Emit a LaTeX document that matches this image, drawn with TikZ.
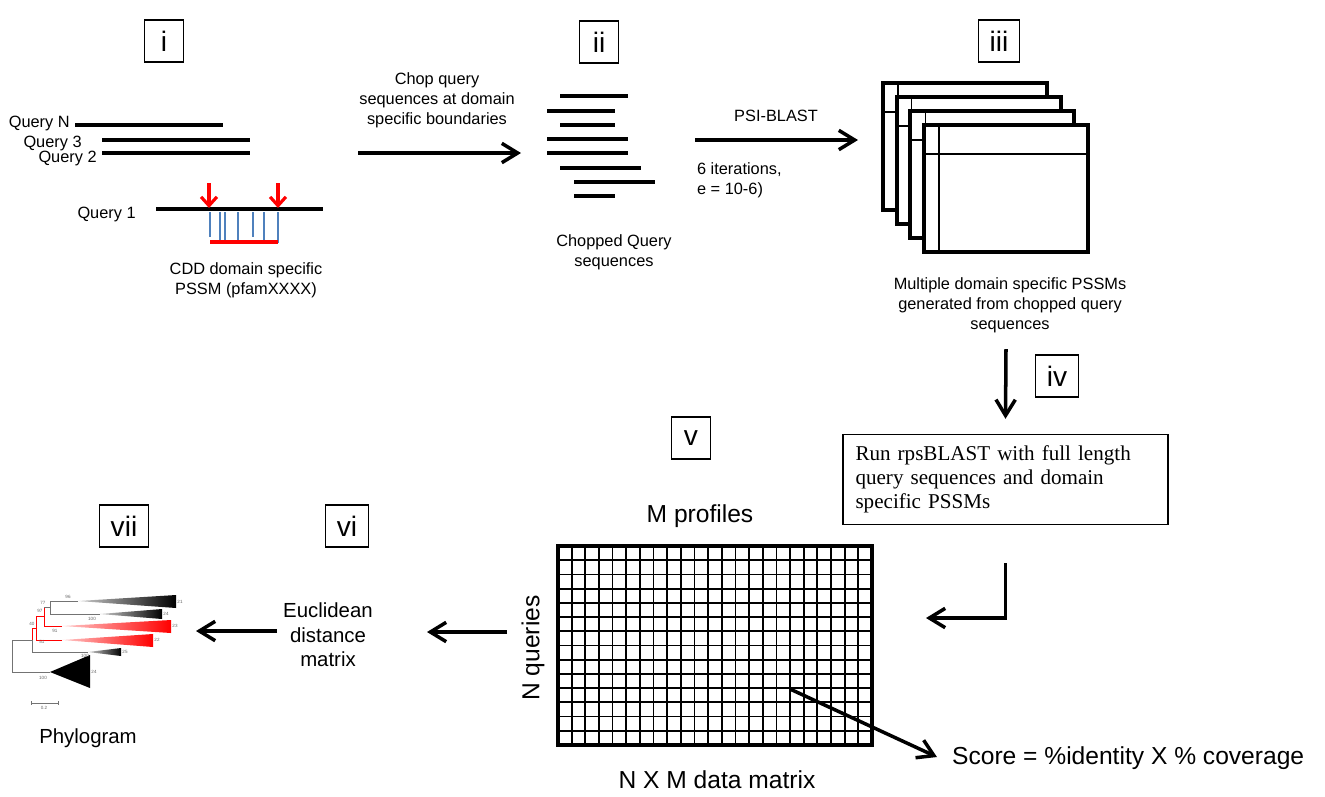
\documentclass[tikz,border=0pt]{standalone}
\usepackage{fontspec}
\setmainfont{Liberation Sans}
\newfontfamily\serifbox{Liberation Serif}
\usetikzlibrary{arrows.meta}
\definecolor{seqblue}{HTML}{4F81BD}

\begin{document}
\begin{tikzpicture}
  [x=0.02cm,y=-0.02cm,every node/.style={align=center,inner sep=1pt}]
  \tikzstyle{txt} = [font=\fontsize{9.3}{11.3}\selectfont]
  \tikzstyle{midtxt} = [font=\fontsize{11.6}{14}\selectfont]
  \tikzstyle{bigtxt} = [font=\fontsize{14}{17}\selectfont]
  \tikzstyle{stepbox} = [draw,line width=0.7pt,minimum width=0.78cm,minimum height=0.84cm,inner xsep=0.22cm,font=\fontsize{16}{18}\selectfont]
  \tikzstyle{bigarrow} = [line width=2pt,-{Straight Barb[length=9pt,width=11pt]}]
  \tikzstyle{redarrow} = [red,line width=1.8pt,-{Straight Barb[length=5pt,width=9pt]}]
  \tikzstyle{seq} = [line width=2.2pt]
  \tikzstyle{card} = [fill=white,line width=2.2pt]
  \tikzstyle{tree} = [black!55,line width=0.4pt]
  \tikzstyle{redtree} = [red,line width=0.5pt]
  \tikzstyle{tiny} = [font=\fontsize{2.6}{3}\selectfont,text=black!60,inner sep=0pt]
  \useasboundingbox (0,0) rectangle (1325,796);

  % step numbers
  \foreach \n/\x/\y/\t in {1/164/41/i,2/599/42/ii,3/999/41/iii,4/1057/376/iv,5/691/438/v,6/347/526/vi,7/124/526/vii}
    \node[stepbox] (st\n) at (\x,\y) {\t};

  % i: query sequences
  \foreach \y/\a/\b in {125/75/223,140/102/250,153/102/250,209/156/323}
    \draw[seq] (\a,\y) -- (\b,\y);
  \node[txt,anchor=east,inner sep=0pt] (qN) at (70,123) {Query N};
  \node[txt,anchor=east,inner sep=0pt] (q3) at (82,143) {Query 3};
  \node[txt,anchor=east,inner sep=0pt] (q2) at (97,158) {Query 2};
  \node[txt,anchor=east,inner sep=0pt] (q1) at (136,214) {Query 1};
  \foreach \x/\e in {210/237,220/242,225/240,238/240,253/237,264/242,278/243}
    \draw[seqblue,line width=0.7pt] (\x,212) -- (\x,\e);
  \draw[red,line width=2.4pt] (210,242) -- (278,242);
  \foreach \x in {209,278}
    \draw[redarrow] (\x,183) -- (\x,208);
  \node[txt] (cdd) at (246,280) {CDD domain specific\\PSSM (pfamXXXX)};

  % chop
  \node[txt] (chop) at (437,100) {Chop query\\sequences at domain\\specific boundaries};
  \coordinate (chopA) at (358,153);
  \coordinate (chopB) at (521,153);
  \draw[bigarrow] (chopA) -- (chopB);

  % ii: chopped sequences
  \foreach \y/\a/\b in {96/560/628,111/547/615,125/560/615,139/547/628,153/547/628,168/560/641,182/574/655,196/574/615}
    \draw[seq] (\a,\y) -- (\b,\y);
  \node[txt] (chopped) at (614,252) {Chopped Query\\sequences};

  % psi-blast
  \coordinate (psiA) at (695,140);
  \coordinate (psiB) at (858,140);
  \draw[bigarrow] (psiA) -- (psiB);
  \node[txt] (psi) at (776,116) {PSI-BLAST};
  \node[txt,anchor=west,align=left] (iter) at (695,180) {6 iterations,\\e = 10-6)};

  % iii: stack of pssms
  \foreach \k in {0,...,3} {
    \draw[card] ({883+13.7*\k},{83+14*\k}) rectangle ++(164,127);
    \draw[line width=0.8pt] ({898+13.7*\k},{83+14*\k}) -- ++(0,127);
    \draw[line width=0.8pt] ({883+13.7*\k},{112+14*\k}) -- ++(164,0);
  }
  \coordinate (pssm) at (1006,349);
  \node[txt] (multi) at (1010,305) {Multiple domain specific PSSMs\\generated from chopped query\\sequences};

  % iv: rpsblast
  \node[draw,line width=0.8pt,minimum width=6.5cm,minimum height=1.8cm,text width=6.0cm,align=left,inner xsep=0.25cm,
        font=\serifbox\fontsize{12}{13.6}\selectfont] (rps) at (1005.5,479.5)
        {Run rpsBLAST with full length\\query sequences and domain\\specific PSSMs};
  \draw[bigarrow] (pssm) -- ([yshift=0.3cm]rps.north);
  \coordinate (ret) at (926,618);
  \draw[bigarrow] ([yshift=-0.76cm]rps.south) |- (ret);

  % v: data matrix
  \foreach \i in {1,...,22}
    \draw[line width=1pt] ({558+\i*13.65},546) -- ({558+\i*13.65},745);
  \foreach \j in {1,...,13}
    \draw[line width=1pt] (558,{546+\j*14.21}) -- (872,{546+\j*14.21});
  \node[draw,line width=2.2pt,minimum width=6.28cm,minimum height=3.98cm,inner sep=0pt] (mat) at (715,645.5) {};
  \node[bigtxt] (mprof) at (700,516) {M profiles};
  \node[bigtxt,rotate=90] (nq) at (533,648) {N queries};
  \node[bigtxt] (nxm) at (717,780) {N X M data matrix};
  \coordinate (cell) at (790,689);
  \coordinate (scoreTip) at (937,757);
  \draw[bigarrow] (cell) -- (scoreTip);
  \node[bigtxt,anchor=west] (score) at (950,758) {Score = \%identity X \% coverage};

  % vi: distances
  \coordinate (matL) at (507,632);
  \coordinate (eucR) at (427,632);
  \draw[bigarrow] (matL) -- (eucR);
  \node[midtxt] (euc) at (328,635) {Euclidean\\distance\\matrix};
  \coordinate (eucL) at (277,631);
  \coordinate (phyR) at (196,631);
  \draw[bigarrow] (eucL) -- (phyR);

  % vii: phylogram
  \draw[tree] (12,640) -- (12,672) (12,640) -- (32,640) (12,672) -- (50,672);
  \fill (50,672) -- (90,655) -- (90,688) -- cycle;
  \draw[tree] (32,640) -- (32,652) -- (88,652);
  \shade[left color=black!20,right color=black] (88,652) -- (121,648) -- (121,656) -- cycle;
  \draw[redtree] (32,640) -- (32,628) -- (36,628);
  \draw[redtree] (36,616) -- (36,640) -- (62,640);
  \shade[left color=red!20,right color=red] (62,640) -- (153,634) -- (153,647) -- cycle;
  \draw[redtree] (36,616) -- (44,616);
  \draw[redtree] (44,607) -- (44,626) -- (62,626);
  \shade[left color=red!20,right color=red] (62,626) -- (171,620) -- (171,633) -- cycle;
  \draw[tree] (44,607) -- (50,607) (50,601) -- (50,614) (50,601) -- (78,601) (50,614) -- (100,614);
  \shade[left color=black!20,right color=black] (78,601) -- (176,595) -- (176,608) -- cycle;
  \shade[left color=black!20,right color=black] (100,614) -- (162,609) -- (162,619) -- cycle;
  \foreach \x/\y/\t in {68/597/96,43/603/77,40/611/97,92/619/100,32/624/40,55/631/91,42/642/51,85/656/100,43/678/100,
                         180/602/21,166/614/24,175/626/23,157/640/22,125/652/25,94/672/24,44/708/0.2}
    \node[tiny] at (\x,\y) {\t};
  \draw[tree] (31,701) -- (31,705) (31,703) -- (58,703) (58,701) -- (58,705);
  \node[midtxt] (phylo) at (88,738) {Phylogram};
\end{tikzpicture}
\end{document}
